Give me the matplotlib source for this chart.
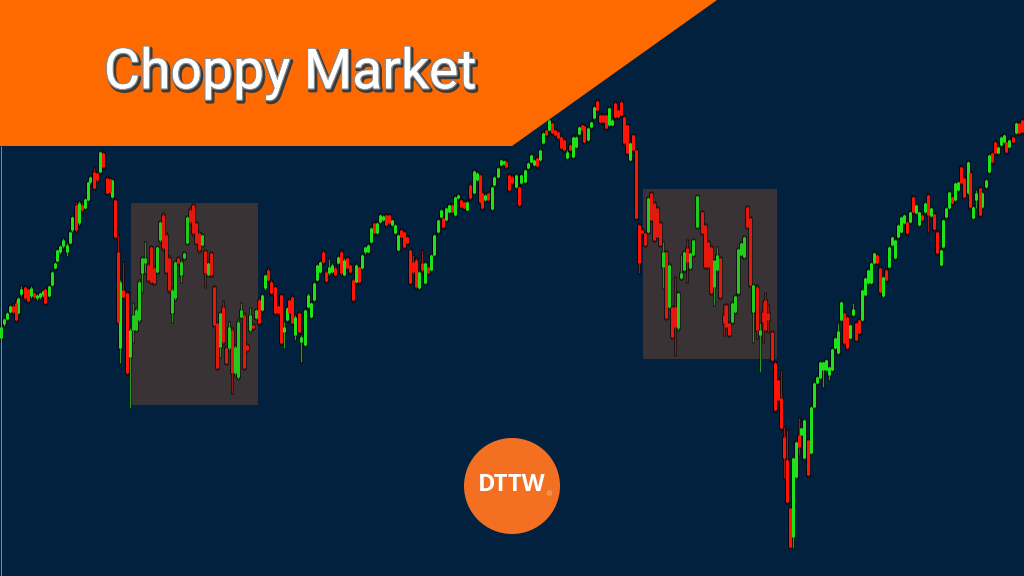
"""Choppy market candlestick banner."""

import matplotlib

matplotlib.use("Agg")

import matplotlib.patheffects as pe
import matplotlib.pyplot as plt
import numpy as np
from matplotlib.patches import Circle, Polygon, Rectangle

TITLE = "Choppy Market"
LOGO = "DTTW"

NAVY = "#01213f"
ORANGE = "#ff6a00"
LOGO_ORANGE = "#f36f21"
BOX = "#3a3336"
GREEN = "#1fe31a"
RED = "#ff1508"

# candles (x position, direction, body and wick levels)
sessions = [
    1, 4, 7, 10, 13, 16, 18, 21, 25, 28,
    31, 34, 37, 40, 43, 45, 49, 52, 55, 57,
    60, 63, 67, 70, 72, 76, 79, 82, 85, 88,
    90, 94, 97, 100, 103, 107, 110, 112, 115, 118,
    120, 123, 127, 130, 133, 136, 139, 142, 145, 148,
    151, 154, 157, 160, 163, 166, 169, 172, 175, 178,
    181, 184, 187, 190, 193, 196, 199, 202, 205, 208,
    211, 214, 217, 220, 223, 226, 229, 232, 235, 238,
    241, 244, 247, 250, 253, 256, 259, 262, 265, 268,
    271, 275, 278, 281, 284, 287, 289, 292, 295, 299,
    301, 305, 308, 311, 314, 317, 320, 323, 326, 329,
    332, 335, 338, 341, 344, 347, 350, 353, 356, 359,
    362, 365, 368, 371, 374, 377, 380, 383, 386, 389,
    392, 395, 398, 401, 404, 407, 410, 413, 416, 419,
    422, 425, 428, 431, 434, 438, 441, 443, 446, 449,
    452, 455, 458, 461, 464, 467, 470, 474, 477, 480,
    482, 485, 488, 492, 494, 498, 501, 504, 506, 509,
    512, 516, 519, 521, 525, 528, 531, 534, 537, 540,
    543, 546, 549, 552, 555, 558, 561, 564, 567, 570,
    573, 576, 579, 582, 584, 588, 591, 594, 597, 600,
    603, 606, 609, 612, 615, 618, 621, 624, 627, 630,
    633, 636, 639, 642, 645, 648, 651, 654, 657, 660,
    663, 666, 669, 672, 675, 678, 681, 684, 687, 690,
    693, 697, 702, 705, 708, 711, 714, 717, 720, 724,
    726, 729, 732, 735, 738, 741, 744, 747, 750, 753,
    757, 760, 763, 765, 768, 772, 775, 778, 781, 784,
    787, 790, 793, 796, 799, 801, 804, 808, 811, 814,
    817, 820, 823, 826, 829, 832, 835, 838, 841, 844,
    847, 850, 853, 856, 859, 862, 865, 868, 871, 874,
    877, 880, 883, 886, 889, 892, 895, 898, 901, 904,
    907, 910, 913, 916, 919, 922, 925, 928, 931, 934,
    937, 941, 943, 946, 949, 952, 955, 958, 961, 964,
    968, 970, 973, 976, 980, 982, 986, 989, 992, 995,
    998, 1001, 1004, 1006, 1009, 1013, 1016, 1019, 1022,
]
directions = (
    "GGGGRRGGRR" "GRGGGRGGGG" "GGGGGRGRGG" "GRRGRRRGRR"
    "GRRGGGGGGR" "RRGGRRRGGR" "GGGRRRRGRG" "RRRGRRGRGG"
    "GRRGRGRGGR" "RRRRGGRRGR" "GGGGGGGRRG" "GRGRGRRRGR"
    "GGGGRGGGRR" "GGGRRRRRRG" "RGRGGGGRGG" "RGGRRGRGGR"
    "RGRGGGGGRR" "RGRGGGGGRG" "GRGRRRRRGR" "GGGRRGGGRR"
    "RRGGRRRRRG" "RRRRRGRRRR" "GRGRRGGGRG" "GGRRRRGGRR"
    "RRGGGGGRRG" "RGRRRRRRRR" "RRGGRGGRGG" "GGGGGGGGGR"
    "RGGRRGGGGG" "RRGRGGGGGG" "RGRGGRGRGR" "RGGGGRGGRR"
    "GRGGRGGGRR" "GGGRGRGRR"
)
body_top = [
    327, 319, 313, 306, 306, 303, 298, 289, 287, 289,
    288, 293, 295, 293, 291, 289, 286, 272, 263, 250,
    246, 240, 245, 232, 217, 205, 203, 205, 199, 182,
    177, 172, 173, 152, 153, 178, 179, 180, 200, 252,
    282, 290, 293, 330, 315, 310, 282, 258, 258, 265,
    247, 268, 247, 222, 215, 235, 258, 290, 262, 258,
    262, 253, 217, 210, 205, 223, 233, 235, 251, 263,
    253, 287, 323, 313, 307, 348, 327, 330, 347, 322,
    310, 315, 345, 315, 325, 310, 300, 295, 275, 270,
    282, 287, 306, 295, 327, 308, 300, 297, 317, 313,
    337, 310, 295, 303, 283, 265, 262, 252, 272, 267,
    265, 268, 257, 252, 260, 258, 265, 280, 265, 267,
    255, 247, 245, 228, 223, 223, 215, 216, 215, 215,
    220, 225, 235, 230, 232, 237, 250, 262, 260, 272,
    263, 263, 267, 255, 235, 220, 210, 218, 208, 205,
    205, 197, 195, 200, 202, 202, 185, 171, 173, 175,
    193, 195, 193, 187, 177, 168, 160, 161, 162, 175,
    177, 175, 187, 175, 170, 163, 155, 160, 158, 150,
    133, 130, 120, 123, 130, 132, 137, 140, 152, 145,
    137, 137, 127, 125, 126, 128, 122, 107, 101, 115,
    115, 115, 108, 120, 103, 110, 102, 117, 125, 143,
    135, 150, 225, 230, 233, 198, 193, 203, 208, 223,
    252, 252, 265, 307, 307, 293, 273, 252, 248, 253,
    240, 196, 212, 225, 242, 247, 260, 255, 258, 315,
    305, 323, 303, 296, 249, 243, 237, 207, 218, 285,
    287, 330, 312, 300, 313, 332, 363, 380, 398, 437,
    460, 508, 458, 442, 435, 428, 420, 440, 407, 383,
    377, 362, 362, 360, 367, 349, 338, 331, 302, 313,
    317, 325, 309, 323, 320, 290, 278, 270, 263, 253,
    255, 268, 277, 270, 247, 237, 240, 225, 217, 215,
    222, 212, 197, 205, 212, 215, 203, 195, 208, 214,
    232, 250, 220, 208, 192, 197, 183, 182, 167, 178,
    162, 173, 207, 193, 188, 193, 180, 155, 153, 142,
    147, 137, 135, 142, 140, 137, 123, 123, 120,
]
body_bottom = [
    338, 324, 319, 312, 312, 320, 313, 294, 298, 301,
    296, 297, 298, 297, 295, 303, 296, 285, 268, 261,
    252, 246, 252, 243, 230, 230, 223, 210, 208, 200,
    182, 188, 180, 172, 167, 193, 192, 197, 237, 322,
    348, 297, 373, 357, 330, 330, 320, 273, 263, 280,
    282, 283, 272, 240, 248, 272, 290, 313, 298, 263,
    275, 258, 243, 222, 233, 243, 250, 245, 273, 275,
    275, 325, 368, 347, 342, 363, 348, 373, 373, 377,
    317, 368, 350, 330, 328, 318, 323, 310, 288, 280,
    293, 313, 313, 343, 332, 320, 313, 323, 335, 332,
    342, 345, 307, 317, 300, 280, 272, 262, 281, 273,
    272, 275, 263, 273, 275, 268, 272, 300, 282, 282,
    268, 252, 252, 242, 233, 233, 222, 220, 225, 223,
    225, 233, 250, 237, 247, 243, 283, 272, 287, 288,
    270, 283, 273, 270, 255, 232, 217, 227, 220, 212,
    212, 215, 198, 207, 208, 210, 198, 193, 180, 202,
    208, 200, 200, 209, 185, 177, 165, 164, 167, 190,
    183, 187, 205, 183, 182, 168, 162, 165, 166, 160,
    143, 135, 130, 133, 135, 138, 148, 150, 158, 150,
    157, 147, 134, 130, 142, 140, 127, 118, 110, 122,
    122, 128, 125, 125, 117, 117, 115, 143, 153, 160,
    150, 218, 263, 233, 245, 232, 220, 240, 237, 245,
    267, 318, 307, 337, 327, 328, 278, 270, 262, 268,
    255, 227, 233, 267, 267, 293, 287, 270, 297, 323,
    327, 335, 322, 312, 293, 255, 257, 227, 285, 312,
    330, 335, 322, 330, 320, 360, 410, 400, 428, 458,
    502, 547, 537, 477, 447, 435, 458, 475, 453, 407,
    383, 378, 370, 370, 375, 370, 348, 353, 320, 343,
    348, 338, 315, 340, 333, 320, 295, 283, 283, 263,
    263, 292, 296, 280, 267, 245, 258, 237, 232, 223,
    233, 222, 212, 213, 225, 220, 212, 215, 216, 229,
    253, 265, 247, 217, 208, 203, 200, 190, 183, 197,
    193, 207, 218, 200, 215, 207, 187, 172, 162, 153,
    153, 145, 142, 152, 147, 142, 133, 133, 132,
]
wick_high = [
    325, 318, 312, 305, 304, 300, 297, 286, 286, 288,
    286, 292, 294, 292, 290, 288, 285, 271, 262, 249,
    245, 238, 243, 231, 216, 202, 201, 203, 198, 181,
    176, 168, 172, 151, 152, 177, 178, 179, 199, 235,
    280, 262, 292, 328, 303, 308, 280, 257, 242, 263,
    246, 266, 246, 221, 213, 233, 256, 288, 261, 257,
    260, 252, 216, 208, 204, 222, 232, 234, 250, 262,
    252, 286, 322, 312, 301, 346, 322, 328, 345, 320,
    303, 313, 344, 308, 324, 309, 298, 294, 274, 268,
    280, 286, 305, 294, 322, 307, 299, 296, 315, 312,
    335, 309, 293, 302, 282, 264, 261, 250, 270, 259,
    263, 266, 256, 250, 258, 257, 264, 278, 264, 266,
    254, 246, 244, 227, 222, 222, 214, 215, 214, 214,
    219, 224, 234, 229, 231, 236, 249, 255, 258, 271,
    250, 262, 266, 254, 234, 219, 209, 217, 207, 204,
    204, 196, 194, 199, 201, 201, 184, 170, 172, 174,
    192, 194, 192, 186, 176, 167, 159, 160, 160, 174,
    175, 174, 186, 174, 169, 162, 154, 159, 157, 149,
    132, 129, 119, 122, 129, 131, 136, 139, 150, 144,
    136, 136, 126, 124, 125, 127, 121, 106, 100, 114,
    114, 114, 107, 119, 102, 109, 100, 116, 124, 142,
    134, 149, 224, 229, 232, 197, 192, 202, 207, 222,
    242, 251, 264, 306, 277, 292, 255, 251, 240, 252,
    239, 195, 211, 224, 241, 246, 260, 247, 257, 305,
    304, 322, 302, 295, 248, 242, 236, 206, 217, 284,
    285, 323, 302, 293, 305, 331, 362, 379, 370, 427,
    430, 507, 457, 441, 418, 427, 419, 439, 406, 382,
    376, 361, 361, 359, 366, 348, 337, 323, 301, 312,
    316, 324, 303, 322, 319, 289, 277, 269, 262, 252,
    254, 267, 276, 269, 246, 236, 239, 224, 216, 214,
    221, 211, 196, 204, 211, 214, 202, 194, 207, 213,
    231, 249, 219, 207, 191, 196, 182, 181, 166, 177,
    161, 172, 206, 190, 187, 192, 179, 154, 152, 141,
    146, 136, 134, 141, 139, 136, 122, 122, 119,
]
wick_low = [
    340, 326, 320, 313, 314, 321, 314, 296, 300, 302,
    298, 299, 300, 299, 297, 304, 297, 286, 269, 262,
    254, 248, 256, 244, 232, 232, 225, 212, 209, 201,
    184, 189, 182, 173, 168, 194, 193, 198, 238, 323,
    363, 298, 374, 408, 342, 331, 322, 292, 273, 281,
    283, 284, 273, 242, 250, 273, 292, 322, 300, 264,
    282, 259, 244, 224, 235, 244, 252, 246, 287, 276,
    276, 326, 369, 357, 344, 364, 350, 393, 375, 379,
    318, 369, 351, 332, 329, 319, 324, 311, 290, 281,
    294, 314, 314, 344, 348, 321, 314, 324, 340, 333,
    362, 346, 308, 318, 301, 281, 273, 263, 282, 275,
    273, 276, 264, 275, 276, 269, 273, 301, 283, 283,
    269, 254, 253, 243, 234, 234, 223, 221, 226, 224,
    226, 234, 251, 238, 248, 244, 284, 274, 288, 289,
    272, 284, 274, 271, 256, 233, 218, 228, 221, 213,
    213, 216, 199, 208, 209, 211, 199, 194, 181, 203,
    209, 201, 201, 210, 186, 178, 166, 165, 168, 191,
    184, 188, 206, 184, 183, 169, 163, 166, 167, 161,
    144, 136, 131, 134, 136, 139, 149, 151, 159, 151,
    158, 148, 135, 131, 143, 141, 128, 119, 111, 123,
    123, 129, 126, 126, 118, 118, 116, 144, 154, 161,
    151, 219, 273, 234, 246, 233, 221, 241, 238, 246,
    288, 319, 308, 338, 355, 330, 279, 271, 282, 269,
    256, 228, 234, 268, 268, 294, 305, 271, 298, 335,
    328, 336, 323, 313, 294, 256, 258, 228, 286, 342,
    338, 372, 342, 331, 332, 361, 411, 401, 429, 478,
    503, 548, 548, 478, 455, 436, 459, 476, 454, 408,
    384, 379, 387, 371, 380, 371, 349, 354, 321, 344,
    349, 339, 316, 341, 334, 321, 296, 284, 284, 264,
    264, 293, 297, 281, 268, 246, 259, 238, 233, 224,
    234, 223, 213, 214, 226, 221, 213, 232, 217, 230,
    254, 266, 248, 218, 209, 204, 201, 191, 184, 198,
    194, 208, 219, 208, 216, 208, 188, 173, 163, 154,
    154, 146, 143, 153, 148, 143, 134, 134, 133,
]

# shaded zones and the orange banner, in picture units
zone_left = [131, 643]
zone_right = [258, 777]
zone_top = [203, 189]
zone_bottom = [405, 359]
banner_x = [0, 717, 512, 0]
banner_y = [0, 0, 146, 146]


def px(n):
    # line widths are in points, the figure runs at 100 dpi
    return n * 0.72


def create_chart():
    fig = plt.figure(figsize=(10.24, 5.76), dpi=100)
    ax = fig.add_axes([0, 0, 1, 1])
    fig.patch.set_facecolor(NAVY)
    ax.set_facecolor(NAVY)
    ax.set_xlim(0, 1024)
    ax.set_ylim(576, 0)
    ax.axis("off")

    for left, right, top, bottom in zip(zone_left, zone_right, zone_top, zone_bottom):
        ax.add_patch(Rectangle((left, top), right - left, bottom - top, color=BOX, lw=0, zorder=1))
        # the zones also sit a little over the candles
        ax.add_patch(Rectangle((left, top), right - left, bottom - top, color=BOX, lw=0, alpha=0.14, zorder=6))

    x = np.array(sessions, dtype=float)
    top = np.array(body_top)
    bottom = np.array(body_bottom)
    high = np.array(wick_high)
    low = np.array(wick_low)
    up = np.array([d == "G" for d in directions])

    # dark halo and grey edge under every candle
    ax.vlines(x + 1.8, top, bottom, color="#9a9a9a", lw=px(1.5), alpha=0.55, capstyle="butt", zorder=2)
    ax.vlines(x, high - 1, low + 1, color="#000000", lw=px(2.8), alpha=0.75, capstyle="butt", zorder=3)
    ax.vlines(x, top - 1, bottom + 1, color="#000000", lw=px(4.6), alpha=0.9, capstyle="butt", zorder=3)

    for mask, colour, wick in [(up, GREEN, "#2f9a22"), (~up, RED, "#9c1a10")]:
        ax.vlines(x[mask], high[mask], low[mask], color=wick, lw=px(1.3), capstyle="butt", zorder=4)
        ax.vlines(x[mask], top[mask], bottom[mask], color=colour, lw=px(3), capstyle="butt", zorder=5)

    # thin pale rule down the left edge
    ax.vlines(0.5, 146, 576, color="#7d8894", lw=px(1), zorder=6)

    ax.add_patch(Polygon(np.column_stack([banner_x, banner_y]), closed=True, color=ORANGE, lw=0, zorder=7))
    ax.text(
        290, 73, TITLE, fontsize=39.8, family="Roboto", color="white", ha="center", va="center", zorder=8,
        path_effects=[
            pe.withStroke(linewidth=3.0, foreground="#3a3a3a", offset=(1.2, -1.5)),
            pe.withStroke(linewidth=2.0, foreground="#8c8c8c"),
            pe.Normal(),
        ],
    )

    ax.add_patch(Circle((512, 486), 48, color=LOGO_ORANGE, lw=0, zorder=7))
    ax.text(512, 485, LOGO, fontsize=17, family="Open Sans", fontweight="bold", color="white",
            ha="center", va="center", zorder=8)
    ax.text(550, 494, "®", fontsize=5, family="DejaVu Sans", color="#f6c6a6", ha="center", va="center", zorder=8)

    fig.savefig("out.png", dpi=100, facecolor=fig.get_facecolor())
    plt.close(fig)


if __name__ == "__main__":
    create_chart()
